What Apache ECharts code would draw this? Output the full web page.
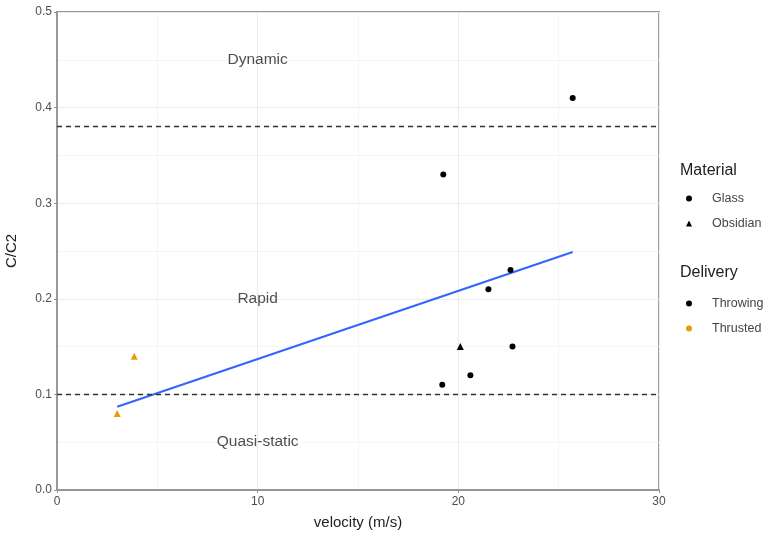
<!DOCTYPE html>
<html><head><meta charset="utf-8">
<script src="https://cdn.jsdelivr.net/npm/echarts@6/dist/echarts.min.js"></script>
<style>html,body{margin:0;padding:0;background:#fff}#c{width:766px;height:534px}</style>
</head><body><div id="c"></div>
<script>
// Glass, Throwing (black circles): [velocity, C/C2]
const glassThrowing = [[25.7,0.41],[19.25,0.33],[22.6,0.23],[21.5,0.21],[22.7,0.15],[19.2,0.11],[20.6,0.12]];
// Obsidian, Throwing (black triangle)
const obsidianThrowing = [[20.1,0.15]];
// Obsidian, Thrusted (orange triangles)
const obsidianThrusted = [[3.85,0.14],[3.0,0.08]];
// Linear fit endpoints
const fitLine = [[3.0,0.087],[25.7,0.249]];
// Regime thresholds
const thresholds = [0.38, 0.1];
// Regime labels
const regimeLabels = [[10,0.45,'Dynamic'],[10,0.2,'Rapid'],[10,0.05,'Quasi-static']];
const xTicks = [0,10,20,30];
const yTicks = [0,0.1,0.2,0.3,0.4,0.5];

const font = 'Liberation Sans, Arial, sans-serif';
const chart = echarts.init(document.getElementById('c'), null, {renderer:'canvas'});
const axisCommon = {
  axisLine:{show:true,lineStyle:{color:'#959595',width:1.8}},
  axisTick:{show:true,length:3,lineStyle:{color:'#959595',width:1}},
  splitLine:{show:true,lineStyle:{color:'#ebebeb',width:1}},
  minorTick:{show:false,splitNumber:2},
  minorSplitLine:{show:true,lineStyle:{color:'#f3f3f3',width:0.8}},
  nameTextStyle:{color:'#222',fontSize:15,fontFamily:font}
};
const legendText = {color:'#444',fontSize:12.5,fontFamily:font,padding:[0,0,0,15]};
chart.setOption({
  animation:false,
  backgroundColor:'#fff',
  grid:{left:57,right:107,top:12,bottom:44,containLabel:false,outerBoundsMode:'none',
        show:true,borderColor:'#959595',borderWidth:1.8,backgroundColor:'transparent'},
  xAxis:Object.assign({},axisCommon,{
    type:'value',min:0,max:30,interval:10,
    name:'velocity (m/s)',nameLocation:'middle',nameGap:25,
    axisLabel:{color:'#4d4d4d',fontSize:12,fontFamily:font,margin:6,formatter:v=>xTicks.includes(v)?String(v):''}
  }),
  yAxis:Object.assign({},axisCommon,{
    type:'value',min:0,max:0.5,interval:0.1,
    name:'C/C2',nameLocation:'middle',nameGap:38,
    axisLabel:{color:'#4d4d4d',fontSize:12,fontFamily:font,margin:5,formatter:v=>yTicks.some(t=>Math.abs(t-v)<1e-9)?v.toFixed(1):''}
  }),
  legend:[
    {orient:'vertical',left:686,top:192,padding:0,itemWidth:6,itemHeight:6,itemGap:12,selectedMode:false,
     textStyle:legendText,
     data:[{name:'Glass',icon:'circle'},{name:'Obsidian',icon:'triangle'}]},
    {orient:'vertical',left:686,top:297,padding:0,itemWidth:6,itemHeight:6,itemGap:12,selectedMode:false,
     textStyle:legendText,
     data:[{name:'Throwing',icon:'circle'},{name:'Thrusted',icon:'circle'}]}
  ],
  graphic:[
    {type:'text',left:680,top:163,style:{text:'Material',fill:'#222',fontSize:16,fontFamily:font}},
    {type:'text',left:680,top:265,style:{text:'Delivery',fill:'#222',fontSize:16,fontFamily:font}}
  ],
  series:[
    {name:'fit',type:'line',data:fitLine,symbol:'none',lineStyle:{color:'#3366ff',width:2.2},z:3,
     markLine:{silent:true,symbol:'none',label:{show:false},lineStyle:{color:'#333',type:[5,4],width:1.3},
       data:thresholds.map(v=>({yAxis:v}))}},
    {name:'Glass',type:'scatter',data:glassThrowing,symbol:'circle',symbolSize:6,itemStyle:{color:'#000',opacity:1},z:4},
    {name:'Obsidian',type:'scatter',data:obsidianThrowing,symbol:'triangle',symbolSize:7,itemStyle:{color:'#000',opacity:1},z:4},
    {name:'Thrusted',type:'scatter',data:obsidianThrusted,symbol:'triangle',symbolSize:7,itemStyle:{color:'#E69F00',opacity:1},z:4},
    {name:'Throwing',type:'scatter',data:[],symbol:'circle',itemStyle:{color:'#000',opacity:1}},
    {name:'labels',type:'scatter',symbolSize:0,silent:true,
     data:regimeLabels.map(d=>({value:[d[0],d[1]],name:d[2]})),
     label:{show:true,position:'inside',formatter:p=>p.name,color:'#222',fontSize:15.5,fontFamily:font}}
  ]
});
</script></body></html>
